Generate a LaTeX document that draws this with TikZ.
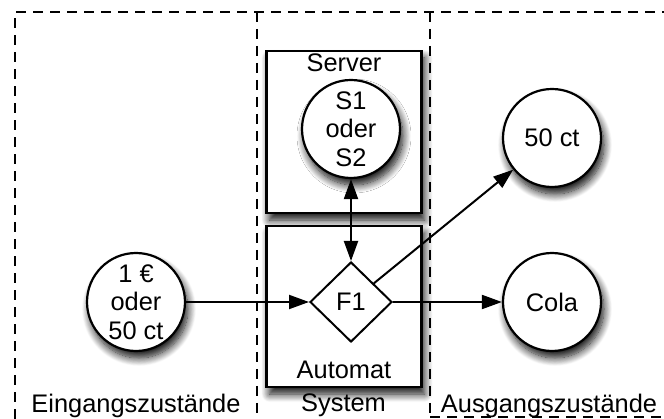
\documentclass[tikz,border=0pt]{standalone}
\usepackage{fontspec}
\setmainfont{Liberation Sans}
\usetikzlibrary{shapes.geometric,arrows.meta,shadows.blur}
\begin{document}
\begin{tikzpicture}[x=1pt,y=-1pt,
  every node/.style={font=\fontsize{25.4}{28.5}\selectfont},
  frame/.style={line width=2.5pt,dash pattern=on 10pt off 7pt},
  shad/.style={blur shadow={shadow xshift=3pt,shadow yshift=-7pt,shadow blur radius=8pt,shadow blur steps=12,shadow opacity=95}},
  sbox/.style={draw,line width=2.6pt,fill=white,minimum width=155pt,inner sep=0pt,shad},
  state/.style={draw,circle,line width=2.2pt,fill=white,minimum size=98pt,inner sep=0pt,align=center,shad},
  dec/.style={draw,diamond,line width=2pt,fill=white,minimum width=82pt,minimum height=80pt,inner sep=0pt},
  lbl/.style={anchor=base,inner sep=0pt},
  tip/.style={Triangle[length=20pt,width=14pt]},
  arr/.style={line width=2pt,-{Triangle[length=20pt,width=14pt]}},
  darr/.style={line width=2pt,{Triangle[length=20pt,width=14pt]}-{Triangle[length=20pt,width=14pt]}}]
\useasboundingbox (0,0) rectangle (664,419);
% dashed regions
\draw[frame] (15,419) -- (15,12) -- (664,12);
\draw[frame] (257,12) -- (257,419);
\draw[frame] (430,12) -- (430,419);
\draw[frame] (430,417) -- (664,417);
% boxes
\node[sbox,minimum height=162pt] (server) at (344,132) {};
\node[sbox,minimum height=161pt] (automat) at (344,306.5) {};
\node[lbl] (serverlbl) at (344,72) {Server};
\node[lbl] (automatlbl) at (344,379) {Automat};
% states
\node[state] (s) at (351,129) {S1\\oder\\S2};
\node[dec] (f1) at (351,302) {F1};
\node[state] (in) at (136,302) {1 €\\oder\\50 ct};
\node[state] (c50) at (552,138) {50 ct};
\node[state] (cola) at (552,302) {Cola};
% connectors
\draw[arr] (in) -- (f1);
\draw[arr] (f1) -- (cola);
\draw[arr] (f1) -- (c50);
\draw[darr] (s) -- (f1);
% region labels
\node[lbl] (ein) at (136,413) {Eingangszustände};
\node[lbl] (sys) at (343.5,412) {System};
\node[lbl] (aus) at (549,413) {Ausgangszustände};
\end{tikzpicture}
\end{document}
